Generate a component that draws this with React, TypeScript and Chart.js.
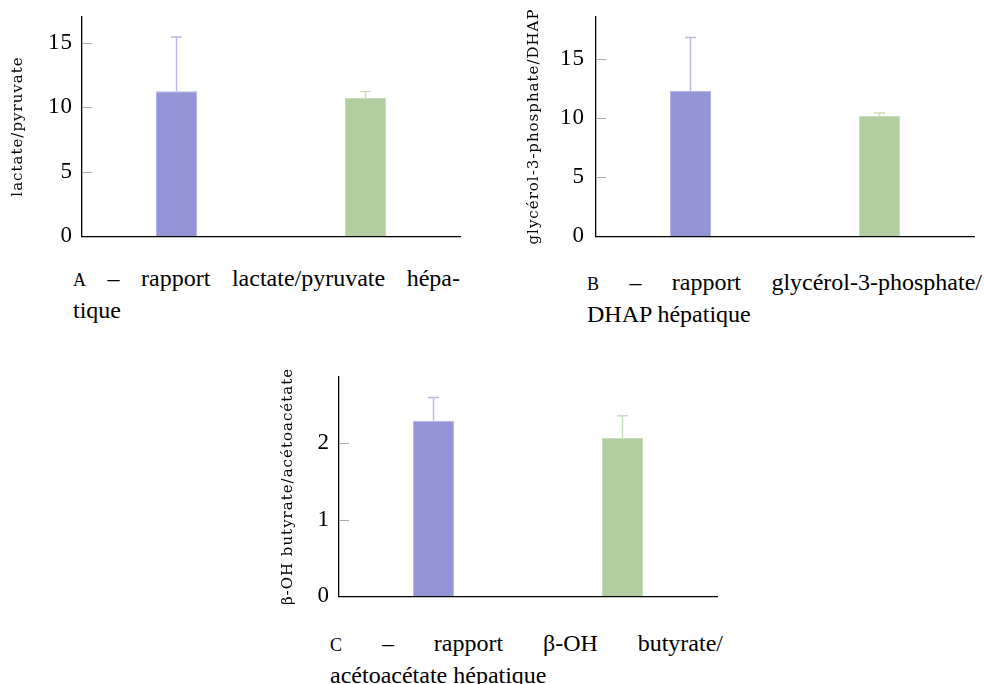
import React, { useEffect, useRef } from 'react';
import { Chart, registerables } from 'chart.js';

Chart.register(...registerables);

// ---- data ----
const groups = ['groupe 1', 'groupe 2'];

const lactatePyruvate = [11.24, 10.7];
const lactatePyruvateErr = [4.2, 0.5];

const g3pDhap = [12.3, 10.2];
const g3pDhapErr = [4.55, 0.25];

const bohbAcac = [2.295, 2.07];
const bohbAcacErr = [0.305, 0.29];

const yMaxA = 17;
const yMaxB = 18.6;
const yMaxC = 2.87;
const stepAB = 5;
const stepC = 1;

const titleA = 'lactate/pyruvate';
const titleB = 'glycérol-3-phosphate/DHAP';
const titleC = 'β-OH butyrate/acétoacétate';

const fills = ['#9395d6', '#b1cea1'];
const borders = ['#b4b5ea', '#c6ddb9'];
const errColors = ['#b6b7ea', '#c6ddb9'];

const TICK_FONT = 23;

// ---- plugins ----
const errorBarPlugin = {
  id: 'errorBars',
  afterDatasetsDraw(chart: any, _args: any, opts: any) {
    const ctx = chart.ctx;
    const ys = chart.scales.y;
    chart.data.datasets.forEach((ds: any, di: number) => {
      const meta = chart.getDatasetMeta(di);
      meta.data.forEach((el: any, i: number) => {
        const v = ds.data[i];
        const e = opts.errors[i];
        const top = ys.getPixelForValue(v + e);
        ctx.save();
        ctx.strokeStyle = opts.colors[i];
        ctx.lineWidth = 1.4;
        ctx.beginPath();
        ctx.moveTo(el.x, el.y);
        ctx.lineTo(el.x, top);
        ctx.moveTo(el.x - 5.5, top);
        ctx.lineTo(el.x + 5.5, top);
        ctx.stroke();
        ctx.restore();
      });
    });
  },
};

const innerTickPlugin = {
  id: 'innerTicks',
  beforeDraw(chart: any) {
    (chart.ctx as any).letterSpacing = '1px';
  },
  afterDraw(chart: any) {
    const ctx = chart.ctx;
    (ctx as any).letterSpacing = '0px';
    const s = chart.scales.y;
    const a = chart.chartArea;
    ctx.save();
    ctx.strokeStyle = '#a9a9a9';
    ctx.lineWidth = 1;
    s.ticks.forEach((t: any) => {
      if (t.value === 0) return;
      const py = Math.round(s.getPixelForValue(t.value)) + 0.5;
      ctx.beginPath();
      ctx.moveTo(a.left + 1, py);
      ctx.lineTo(a.left + 10, py);
      ctx.stroke();
    });
    ctx.restore();
  },
};

type PanelProps = {
  left: number;
  areaTop: number;
  areaBottom: number;
  width: number;
  yAxisWidth: number;
  titlePad: number;
  tickPad: number;
  label: string;
  values: number[];
  errors: number[];
  max: number;
  step: number;
};

function BarPanel(p: PanelProps) {
  const ref = useRef<HTMLCanvasElement>(null);
  const pad = (TICK_FONT * 1.2) / 2 + p.tickPad;
  const top = Math.round(p.areaTop - pad);
  const height = Math.round(p.areaBottom - top + pad);
  useEffect(() => {
    if (!ref.current) return;
    const chart = new Chart(ref.current, {
      type: 'bar',
      data: {
        labels: groups,
        datasets: [
          {
            data: p.values,
            backgroundColor: fills,
            borderColor: borders,
            borderWidth: 1,
            barPercentage: 0.217,
            categoryPercentage: 1,
          },
        ],
      },
      options: {
        responsive: false,
        animation: false,
        devicePixelRatio: 1,
        layout: { padding: { left: 0, right: 10, top: 0, bottom: 0 } },
        plugins: {
          legend: { display: false },
          tooltip: { enabled: false },
          errorBars: { errors: p.errors, colors: errColors },
        } as any,
        scales: {
          x: {
            type: 'category',
            grid: { display: false, drawTicks: false, tickLength: 0 },
            ticks: { display: false },
            border: { display: true, color: '#000', width: 1.3 },
          },
          y: {
            min: 0,
            max: p.max,
            ticks: {
              stepSize: p.step,
              includeBounds: false,
              padding: p.tickPad,
              color: '#000',
              font: { family: "'Liberation Serif', serif", size: TICK_FONT },
              callback: (v: any) => String(v),
            },
            grid: { display: false, drawTicks: false, tickLength: 0 },
            border: { display: true, color: '#000', width: 1.3 },
            title: {
              display: true,
              text: p.label,
              color: '#000',
              font: { family: "'DejaVu Serif', serif", size: 15 },
              padding: { top: p.titlePad, bottom: 0 },
            },
            afterFit: (s: any) => {
              s.width = p.yAxisWidth;
            },
          },
        },
      },
      plugins: [errorBarPlugin, innerTickPlugin],
    });
    return () => chart.destroy();
  }, []);
  return (
    <canvas
      ref={ref}
      width={p.width}
      height={height}
      style={{ position: 'absolute', left: p.left, top, width: p.width, height }}
    />
  );
}

const captionFont: React.CSSProperties = {
  fontFamily: "'Liberation Serif', serif",
  fontSize: 24,
  lineHeight: '30px',
  color: '#000',
  position: 'absolute',
};

const justLine: React.CSSProperties = {
  textAlign: 'justify',
  textAlignLast: 'justify' as any,
};

function Caption({ left, top, width, letter, line1, line2 }: any) {
  return (
    <div style={{ ...captionFont, left, top, width }}>
      <div style={justLine}>
        <span style={{ fontSize: 18 }}>{letter}</span> – {line1}
      </div>
      <div>{line2}</div>
    </div>
  );
}

export default function App() {
  return (
    <div style={{ position: 'fixed', left: 0, top: 0, width: 984, height: 684, background: '#fff', overflow: 'hidden' }}>
      <BarPanel left={0} areaTop={17} areaBottom={236} width={470} yAxisWidth={82} titlePad={9} tickPad={9}
        label={titleA} values={lactatePyruvate} errors={lactatePyruvateErr} max={yMaxA} step={stepAB} />
      <BarPanel left={510} areaTop={17} areaBottom={236} width={474} yAxisWidth={86} titlePad={15} tickPad={11}
        label={titleB} values={g3pDhap} errors={g3pDhapErr} max={yMaxB} step={stepAB} />
      <BarPanel left={270} areaTop={377} areaBottom={596} width={457} yAxisWidth={69} titlePad={9} tickPad={9}
        label={titleC} values={bohbAcac} errors={bohbAcacErr} max={yMaxC} step={stepC} />
      <Caption left={73} top={263} width={387} letter="A" line1="rapport lactate/pyruvate hépa-" line2="tique" />
      <Caption left={587} top={267} width={395} letter="B" line1="rapport glycérol-3-phosphate/" line2="DHAP hépatique" />
      <Caption left={330} top={628} width={393} letter="C" line1="rapport β-OH butyrate/" line2="acétoacétate hépatique" />
    </div>
  );
}
